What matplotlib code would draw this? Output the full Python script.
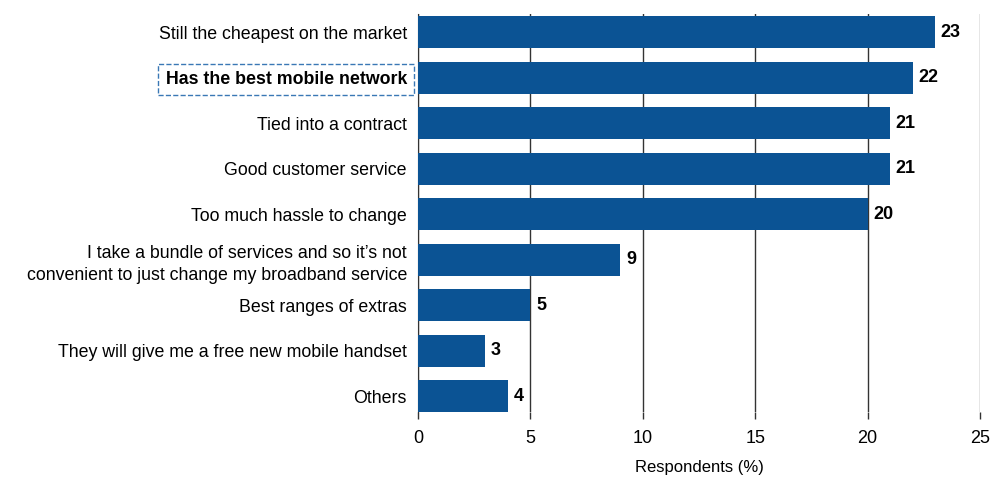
import matplotlib.pyplot as plt
import numpy as np

plt.rcParams['font.family'] = ['Liberation Sans', 'DejaVu Sans']

reasons = [
    "Still the cheapest on the market",
    "Has the best mobile network",
    "Tied into a contract",
    "Good customer service",
    "Too much hassle to change",
    "I take a bundle of services and so it\u2019s not\nconvenient to just change my broadband service",
    "Best ranges of extras",
    "They will give me a free new mobile handset",
    "Others",
]
respondents = [23, 22, 21, 21, 20, 9, 5, 3, 4]
highlight = 1  # index of the boxed label

fig = plt.figure(figsize=(9.92, 4.83), dpi=100)
ax = fig.add_axes([0.4214, 0.147, 0.5666, 0.824])

y = np.arange(len(reasons))
ax.barh(y, respondents, height=0.7, color='#0b5394', zorder=3)
for yi, v in zip(y, respondents):
    ax.text(v + 0.25, yi, str(v), va='center', ha='left', fontsize=13,
            fontweight='bold', zorder=4)

ax.set_xlim(0, 25)
ax.set_ylim(8.35, -0.4)
ax.set_xticks([0, 5, 10, 15, 20, 25])
ax.set_yticks(y)
ax.set_yticklabels(reasons, fontsize=12.8)
ax.tick_params(axis='y', length=0, pad=8)
ax.tick_params(axis='x', length=5, width=1, color='#333333', labelsize=13, pad=8)
ax.xaxis.grid(True, color='#333333', linewidth=1, zorder=0)
ax.get_xgridlines()[-1].set_color('#808080')
for side in ['top', 'right', 'bottom']:
    ax.spines[side].set_visible(False)
ax.spines['left'].set_color('#333333')
ax.set_xlabel('Respondents (%)', fontsize=12, labelpad=9)

for t in ax.get_yticklabels():
    t.set_linespacing(1.45)
lbl = ax.get_yticklabels()[highlight]
lbl.set_fontweight('bold')
lbl.set_bbox(dict(facecolor='none', edgecolor='#3a78b5', linestyle='--',
                  linewidth=1, boxstyle='square,pad=0.4'))

fig.savefig('out.png', dpi=100, facecolor='white')
